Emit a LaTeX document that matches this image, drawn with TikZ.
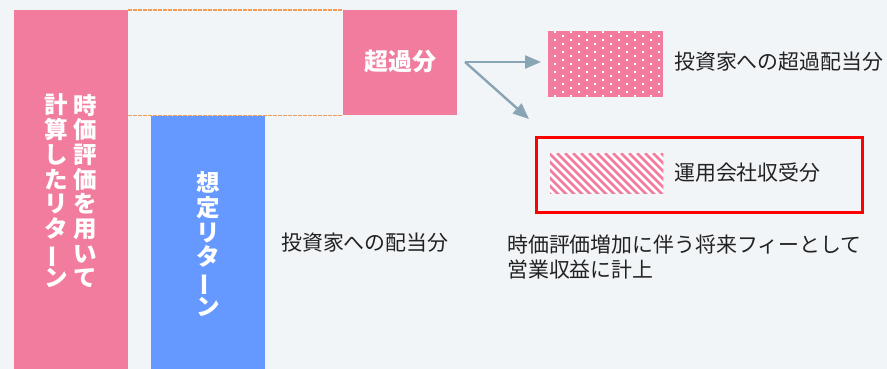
\documentclass[tikz,border=0pt]{standalone}
\usepackage{fontspec}
\setmainfont{Noto Sans CJK JP}
\usetikzlibrary{arrows.meta}
\definecolor{bg}{HTML}{F2F5F7}
\definecolor{pinkc}{HTML}{F17C9D}
\definecolor{bluec}{HTML}{6699FF}
\definecolor{arrowc}{HTML}{89A4B4}
\definecolor{dashc}{HTML}{F39C5A}
\definecolor{txt}{HTML}{222222}
\newcommand{\vchoon}{\rotatebox[origin=c]{90}{ー}}
\tikzset{
  block/.style={fill=#1, inner sep=0pt, anchor=north west},
  vtext/.style={text=white, align=center, inner sep=0pt, font=\bfseries\fontsize{23.5}{24.7}\selectfont},
  lbl/.style={text=txt, inner sep=0pt, anchor=west, font=\fontsize{20.9}{25}\selectfont},
  arr/.style={draw=arrowc, line width=2.4pt, -{Triangle[length=16pt,width=13pt]}},
  dashline/.style={draw=dashc, line width=1.4pt, dash pattern=on 3.5pt off 1.5pt},
}
\begin{document}
\begin{tikzpicture}[x=1pt,y=-1pt]
\fill[bg] (0,0) rectangle (887,369);
\useasboundingbox (0,0) rectangle (887,369);

% bars
\node[block=pinkc, minimum width=114pt, minimum height=359pt] (pinkbar) at (14,10) {};
\node[block=bluec, minimum width=114pt, minimum height=253pt] (bluebar) at (151,116) {};
\node[block=pinkc, minimum width=114pt, minimum height=105pt] (excess) at (343,10) {};

% dashed guides
\draw[dashline] (pinkbar.north east) -- (excess.north west);
\draw[dashline] (pinkbar.east |- excess.south west) -- (excess.south west);

% vertical texts
\node[vtext] (pinkR) at (85,191) {時\\価\\評\\価\\を\\用\\い\\て};
\node[vtext] (pinkL) at (56,191) {計\\算\\し\\た\\リ\\タ\\\vchoon\\ン};
\node[vtext] (blueT) at (208,244) {想\\定\\リ\\タ\\\vchoon\\ン};
\node[text=white, inner sep=0pt, font=\bfseries\fontsize{24}{25}\selectfont] (excessT) at (400,61) {超過分};

% arrows
\coordinate (split) at (465,62);
\coordinate (tipA) at (541,62);
\coordinate (tipB) at (529,119);
\draw[arr] (split) -- (tipA);
\draw[arr] (split) -- (tipB);

% dotted legend
\node[block=pinkc, minimum width=115pt, minimum height=66pt] (dots) at (548,31) {};
\begin{scope}
\clip (dots.north west) rectangle (dots.south east);
\foreach \i in {0,...,7} \foreach \j in {0,...,8} {
  \fill[white] (553.7+16*\i, 30.7+8*\j) rectangle ++(2,2);
  \fill[white] (561.7+16*\i, 34.7+8*\j) rectangle ++(2,2);
}
\end{scope}
\node[lbl] (dotsT) at (674,62) {投資家への超過配当分};

% red frame with hatched legend
\node[draw=red, line width=2.5pt, inner sep=0pt, minimum width=326pt, minimum height=75pt, anchor=north west] (frame) at (535.2,136.2) {};
\node[block=white, minimum width=113pt, minimum height=40pt] (hatch) at (550,153) {};
\begin{scope}
\clip (hatch.north west) rectangle (hatch.south east);
\foreach \i in {-6,...,15} \draw[pinkc, line width=2.7pt] (557+8*\i,153) -- ++(45,45);
\end{scope}
\node[lbl] (hatchT) at (674,173) {運用会社収受分};

% other labels
\node[lbl] (divT) at (281,243) {投資家への配当分};
\node[lbl, align=left] (feeT) at (507,257.5) {時価評価増加に伴う将来フィーとして\\営業収益に計上};
\end{tikzpicture}
\end{document}
